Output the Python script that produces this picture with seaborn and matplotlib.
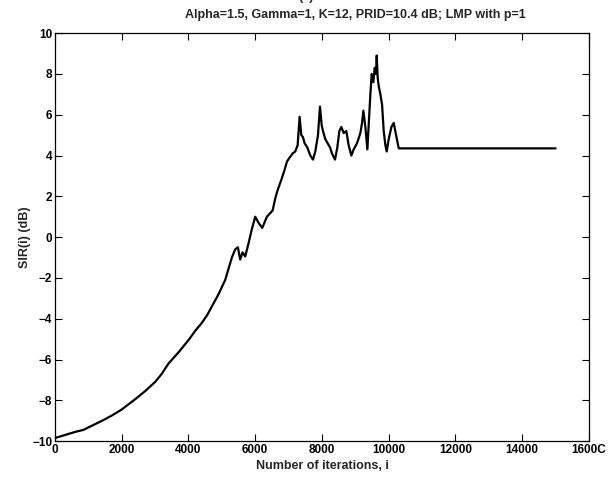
import matplotlib
matplotlib.use("Agg")
import matplotlib.pyplot as plt
import seaborn as sns
import pandas as pd

# SIR trajectory of the LMP (p=1) power-control run
iterations = [0, 200, 400, 600, 850, 1100, 1450, 1700, 2000, 2400, 2700, 3000,
              3200, 3400, 3700, 4000, 4200, 4400, 4550, 4700, 4900,
              5100, 5300, 5400, 5480, 5550, 5620, 5700, 5800, 5900, 6000,
              6100, 6210, 6350, 6520, 6600, 6670, 6780, 6880, 6950, 7030,
              7120, 7200, 7270, 7330, 7380, 7430, 7480, 7560, 7650, 7730,
              7800, 7880, 7940, 7990, 8030, 8100, 8170, 8240, 8300, 8390,
              8460, 8520, 8580, 8650, 8730, 8800, 8880, 8950, 9050, 9150,
              9200, 9240, 9300, 9360, 9400, 9450, 9490, 9540, 9580, 9620,
              9640, 9670, 9700, 9750, 9800, 9850, 9900, 9940, 10000, 10080,
              10150, 10220, 10300, 15000]
sir_db = [-9.85, -9.75, -9.65, -9.55, -9.45, -9.25, -8.97, -8.75, -8.45, -7.95, -7.55, -7.1,
          -6.7, -6.2, -5.65, -5.05, -4.6, -4.2, -3.85, -3.4, -2.8,
          -2.1, -1.0, -0.6, -0.5, -1.1, -0.75, -0.95, -0.3, 0.4, 1.0,
          0.7, 0.45, 1.0, 1.3, 1.9, 2.3, 2.8, 3.3, 3.7, 3.9,
          4.1, 4.2, 4.5, 5.9, 5.0, 4.9, 4.6, 4.4, 4.0, 3.8,
          4.2, 5.0, 6.4, 5.5, 5.2, 4.8, 4.6, 4.4, 4.1, 3.8,
          4.4, 5.2, 5.4, 5.1, 5.2, 4.5, 4.0, 4.3, 4.6, 5.1,
          5.6, 6.2, 5.4, 4.3, 5.5, 7.0, 8.0, 7.6, 8.3, 8.0,
          8.9, 7.8, 7.4, 7.0, 6.5, 5.2, 4.5, 4.2, 4.8, 5.4,
          5.6, 5.0, 4.35, 4.35]

x_ticks = [0, 2000, 4000, 6000, 8000, 10000, 12000, 14000, 16000]
x_tick_labels = ["0", "2000", "4000", "6000", "8000", "10000", "12000", "14000", "1600C"]
y_ticks = [-10, -8, -6, -4, -2, 0, 2, 4, 6, 8, 10]

title_text = "Alpha=1.5, Gamma=1, K=12, PRID=10.4 dB; LMP with p=1"
x_label = "Number of iterations, i"
y_label = "SIR(i) (dB)"

sns.set_theme(style="ticks")
plt.rcParams["font.family"] = ["Liberation Sans", "DejaVu Sans"]
plt.rcParams["font.weight"] = "bold"

df = pd.DataFrame({"iteration": iterations, "sir": sir_db})

fig = plt.figure(figsize=(6.13, 4.80), dpi=100)
ax = fig.add_axes([0.0897, 0.081, 0.8711, 0.850])

sns.lineplot(data=df, x="iteration", y="sir", ax=ax, color="black",
             linewidth=1.6, estimator=None, sort=False)

ax.set_xlim(0, 16000)
ax.set_ylim(-10, 10)
ax.set_xticks(x_ticks)
ax.set_xticklabels(x_tick_labels)
ax.set_yticks(y_ticks)
ax.tick_params(direction="in", length=5, width=0.8, labelsize=8.5, pad=2,
               top=True, right=True, colors="black")
for s in ax.spines.values():
    s.set_visible(True)
    s.set_color("black")
    s.set_linewidth(0.9)

ax.set_xlabel(x_label, fontsize=9, fontweight="bold", labelpad=3)
ax.set_ylabel(y_label, fontsize=9, fontweight="bold", labelpad=1)
ax.text(0.562, 1.045, title_text, transform=ax.transAxes, ha="center",
        va="center", fontsize=9, fontweight="bold")

# figure tag, mostly above the top edge
fig.text(0.50, 0.993, "(a)", ha="center", va="bottom", fontsize=9)

fig.savefig("out.png", dpi=100, facecolor="white")
